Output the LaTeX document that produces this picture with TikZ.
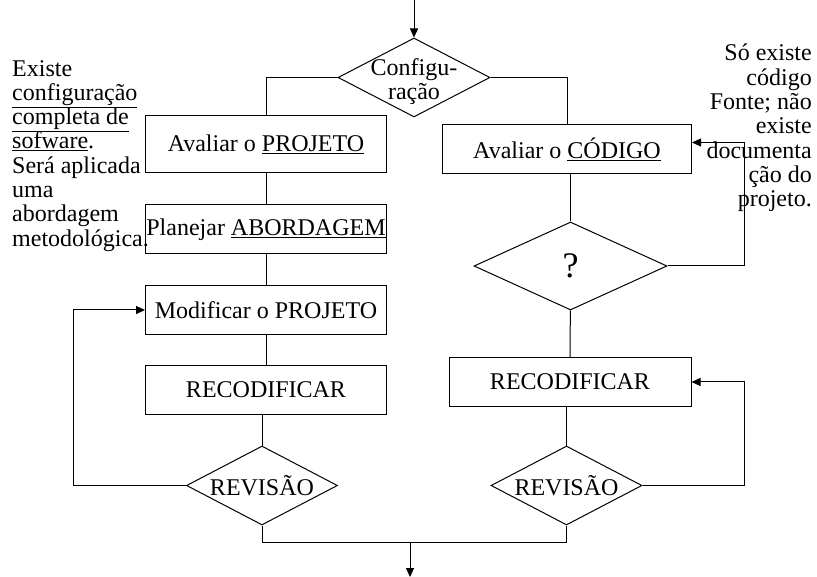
\documentclass[tikz,border=0pt]{standalone}
\usepackage{fontspec}
\setmainfont{Liberation Serif}
\usetikzlibrary{positioning,arrows.meta,shapes.geometric}
\tikzset{
  process-box/.style={draw=black, line width=1pt, minimum width=241pt, minimum height=49pt,
    inner sep=1pt, font=\fontsize{24}{26}\selectfont, align=center},
  decision-node/.style={draw=black, line width=1pt, diamond, aspect=1.9, inner sep=0pt,
    minimum width=151pt, minimum height=79pt, font=\fontsize{24}{26}\selectfont, align=center},
  flow-line/.style={draw=black, line width=1pt},
  flow-arrow/.style={-{Triangle[length=9pt, width=8pt]}, line width=1pt, draw=black},
  note-text/.style={font=\fontsize{24}{24.3}\selectfont, inner sep=0pt}
}

\begin{document}
\begin{tikzpicture}[x=1pt, y=-1pt]
\useasboundingbox (0,0) rectangle (817,577);
% side notes
\node[note-text, anchor=north west, align=left] (note-left) at (12,60)
  {Existe\\\underline{configuração}\\\underline{completa de}\\\underline{sofware}.\\Será aplicada\\uma\\abordagem\\metodológica.};
\node[note-text, anchor=north east, align=right] (note-right) at (812,44)
  {Só existe\\código\\Fonte; não\\existe\\documenta\\ção do\\projeto.};
% entry decision
\node[decision-node, minimum width=152pt] (config) at (414,77.5) {};
\node[font=\fontsize{24}{24}\selectfont, align=center, inner sep=0pt] (config-text) at (414,82) {Configu-\\ração};
% left branch: full configuration available
\node[process-box, minimum height=57pt] (proj-eval) at (266,144.5) {Avaliar o \underline{PROJETO}};
\node[process-box] (plan)        at (266,229.5) {Planejar \underline{ABORDAGEM}};
\node[process-box] (modify)      at (266,310)   {Modificar o PROJETO};
\node[process-box] (recode-left) at (266,390)   {RECODIFICAR};
\node[decision-node] (review-left) at (262,485.5) {REVISÃO};
% right branch: only source code
\node[process-box, minimum width=249pt] (code-eval) at (567,149.5) {Avaliar o \underline{CÓDIGO}};
\node[decision-node, aspect=2.2, minimum width=193pt, minimum height=88pt, font=\fontsize{36}{40}\selectfont] (query) at (570.5,266) {?};
\node[process-box, minimum width=242pt] (recode-right) at (570,382) {RECODIFICAR};
\node[decision-node] (review-right) at (566.5,485.5) {REVISÃO};
% free ends and rails
\coordinate (entry) at (414,0);
\coordinate (merge) at (410,542);
\coordinate (exit) at (410,577);
\coordinate (left-rail) at (73,0);
\coordinate (right-rail) at (744,0);
% main flow
\draw[flow-arrow] (entry) -- (config.north);
\draw[flow-line] (config.west) -| (proj-eval.north);
\draw[flow-line] (config.east) -| (code-eval.north);
\draw[flow-line] (proj-eval) -- (plan);
\draw[flow-line] (plan) -- (modify);
\draw[flow-line] (modify) -- (recode-left);
\draw[flow-line] (recode-left.south -| review-left.north) -- (review-left.north);
\draw[flow-line] (code-eval.south -| query.north) -- (query.north);
\draw[flow-line] (query) -- (recode-right);
\draw[flow-line] (recode-right.south -| review-right.north) -- (review-right.north);
% loops back from the reviews and the question
\draw[flow-arrow] (review-left.west) -- (review-left.west -| left-rail) |- (modify.west);
\draw[flow-arrow] (query.east) -- (query.east -| right-rail) |- ([yshift=7pt]code-eval.east);
\draw[flow-arrow] (review-right.east) -- (review-right.east -| right-rail) |- (recode-right.east);
% both branches join at the exit
\draw[flow-line] (review-left.south) |- (merge);
\draw[flow-line] (review-right.south) |- (merge);
\draw[flow-arrow] (merge) -- (exit);
\end{tikzpicture}
\end{document}
